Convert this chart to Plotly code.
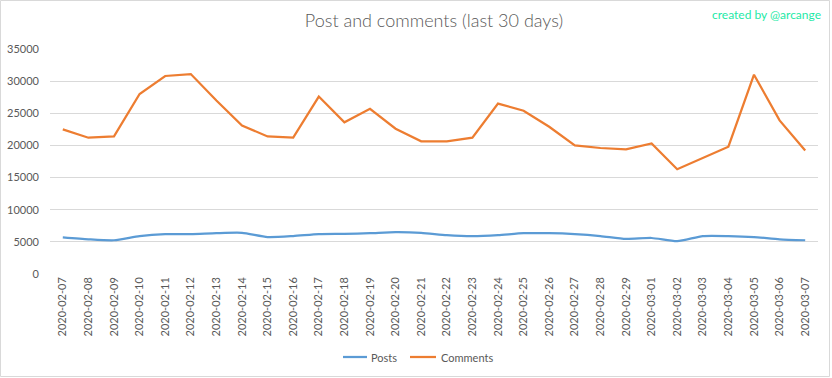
import plotly.graph_objects as go

dates = ["2020-02-07", "2020-02-08", "2020-02-09", "2020-02-10", "2020-02-11", "2020-02-12",
         "2020-02-13", "2020-02-14", "2020-02-15", "2020-02-16", "2020-02-17", "2020-02-18",
         "2020-02-19", "2020-02-20", "2020-02-21", "2020-02-22", "2020-02-23", "2020-02-24",
         "2020-02-25", "2020-02-26", "2020-02-27", "2020-02-28", "2020-02-29", "2020-03-01",
         "2020-03-02", "2020-03-03", "2020-03-04", "2020-03-05", "2020-03-06", "2020-03-07"]

posts = [5700, 5400, 5250, 5900, 6200, 6200, 6350, 6400, 5750, 5900, 6200, 6250,
         6350, 6500, 6400, 6050, 5900, 6050, 6350, 6350, 6200, 5900, 5450, 5600,
         5100, 5900, 5900, 5750, 5400, 5250]

comments = [22500, 21200, 21400, 28000, 30800, 31100, 27000, 23100, 21400, 21200, 27600, 23600,
            25700, 22600, 20650, 20650, 21200, 26500, 25400, 22900, 20000, 19600, 19400, 20300,
            16300, 18000, 19800, 31000, 23900, 19200]

series_names = ["Posts", "Comments"]
series_colors = ["#5B9BD5", "#ED7D31"]

y_ticks = [0, 5000, 10000, 15000, 20000, 25000, 30000, 35000]

W, H = 832, 378
L, R, T, B = 50, 14, 49, 104
FONT = "Lato, Open Sans, sans-serif"
pw = W - L - R
ph = H - T - B


def px_x(x):
    return (x - L) / pw


def px_y(y):
    return (H - B - y) / ph


fig = go.Figure()
fig.add_trace(go.Scatter(x=dates, y=posts, name=series_names[0], mode="lines",
                         line=dict(color=series_colors[0], width=2.25, shape="spline", smoothing=0.6)))
fig.add_trace(go.Scatter(x=dates, y=comments, name=series_names[1], mode="lines",
                         line=dict(color=series_colors[1], width=2.25)))

shapes = [dict(type="rect", xref="paper", yref="paper",
               x0=px_x(0.5), x1=px_x(W - 2.5), y0=px_y(H - 1.5), y1=px_y(0.5),
               line=dict(color="#D9D9D9", width=1), fillcolor="rgba(0,0,0,0)", layer="below")]

annotations = [dict(text="created by @arcange", xref="paper", yref="paper",
                    x=px_x(823), y=px_y(14), xanchor="right", yanchor="middle",
                    showarrow=False, font=dict(size=12, color="#1DE9A6", family=FONT))]

# custom legend (short Excel-style swatches)
legend_y = 357
legend_items = [(343, 367, 369), (410, 436, 439)]
for (lx0, lx1, tx), name, col in zip(legend_items, series_names, series_colors):
    shapes.append(dict(type="line", xref="paper", yref="paper",
                       x0=px_x(lx0), x1=px_x(lx1), y0=px_y(legend_y), y1=px_y(legend_y),
                       line=dict(color=col, width=2.25)))
    annotations.append(dict(text=name, xref="paper", yref="paper", x=px_x(tx), y=px_y(legend_y),
                            xanchor="left", yanchor="middle", showarrow=False,
                            font=dict(size=11, color="#595959", family=FONT)))

fig.update_layout(
    width=W, height=H,
    margin=dict(l=L, r=R, t=T, b=B, pad=0, autoexpand=False),
    paper_bgcolor="white", plot_bgcolor="white",
    font=dict(family=FONT, color="#595959", size=11),
    title=dict(text="Post and comments (last 30 days)", x=0.5, xref="paper", xanchor="center",
               y=1 - 21 / H, yanchor="middle", automargin=False,
               font=dict(size=18, color="#595959", family=FONT, weight=300)),
    showlegend=False,
    xaxis=dict(type="category", categoryorder="array", categoryarray=dates,
               tickangle=-90, showgrid=False, showline=False, zeroline=False,
               ticks="", tickfont=dict(size=11, color="#595959", family=FONT),
               range=[-0.5, len(dates) - 0.5], automargin=False),
    yaxis=dict(range=[0, 35000], tickvals=y_ticks, ticktext=[str(v) for v in y_ticks],
               showgrid=True, gridcolor="#D9D9D9", gridwidth=1, zeroline=False,
               showline=False, ticks="", ticklabelstandoff=10, automargin=False,
               tickfont=dict(size=11, color="#595959", family=FONT)),
    shapes=shapes,
    annotations=annotations,
)

fig.write_html("out.html", config={"displayModeBar": False},
               post_script="document.body.style.margin='0';document.body.style.overflow='hidden';")
